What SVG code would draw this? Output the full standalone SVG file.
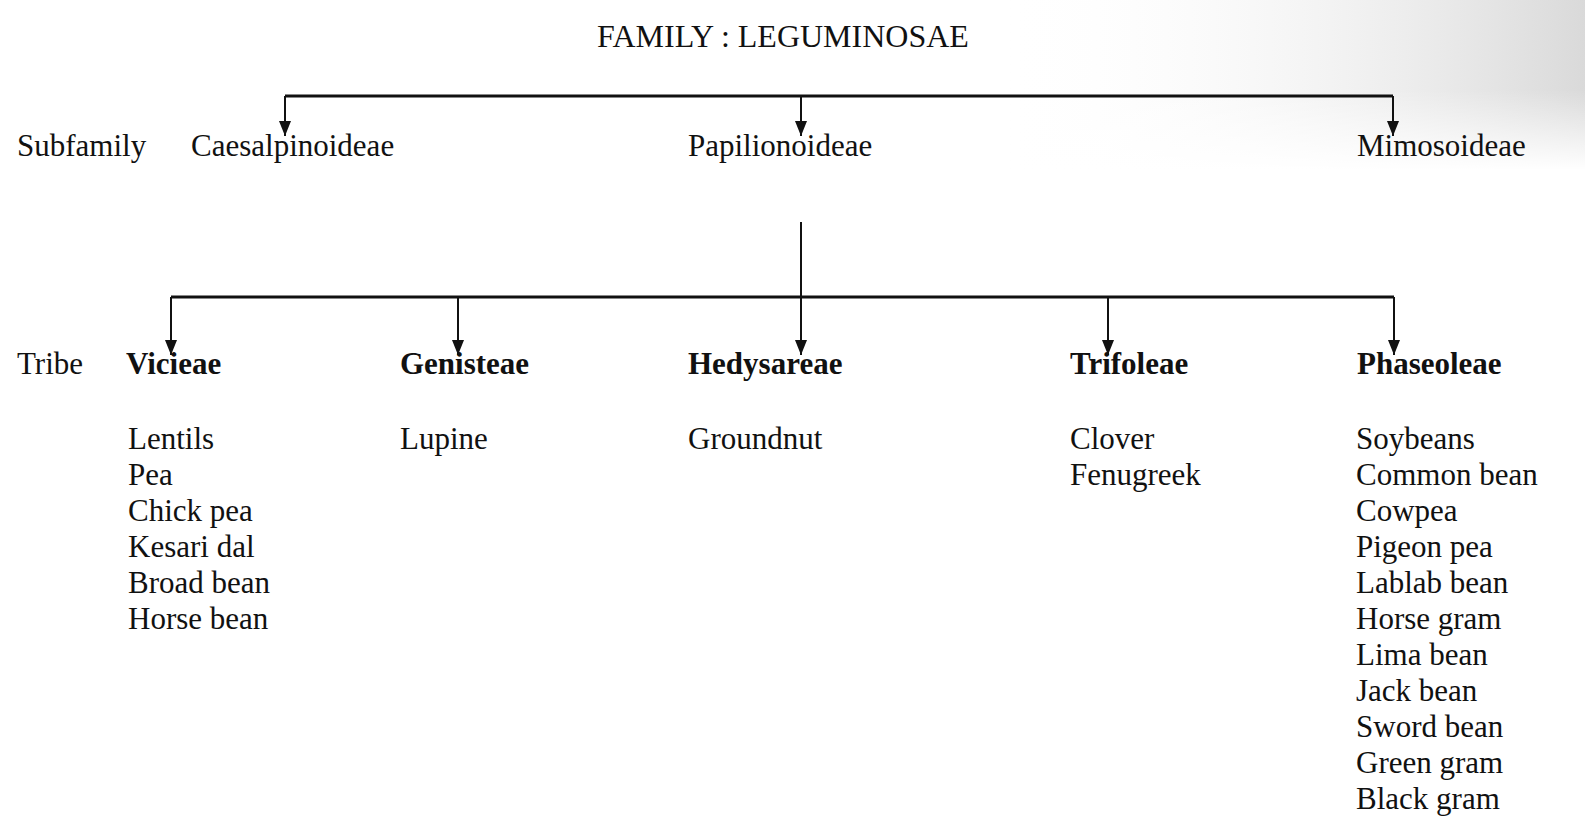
<svg xmlns="http://www.w3.org/2000/svg" width="1585" height="825" viewBox="0 0 1585 825">
<style>
  text { font-family: "Liberation Serif", "Times New Roman", serif; font-size: 31px; fill: #111; }
  .tribe { font-weight: bold; }
  .conn { stroke: #111; stroke-width: 2; fill: none; }
  .bar { stroke: #111; stroke-width: 3; fill: none; }
</style>
<defs>
  <marker id="arr" viewBox="0 0 15 12" refX="15" refY="6" markerWidth="15" markerHeight="12" markerUnits="userSpaceOnUse" orient="auto">
    <path d="M0,0 L15,6 L0,12 Z" fill="#111"/>
  </marker>
  <linearGradient id="shade" x1="0" y1="0" x2="1" y2="0">
    <stop offset="0" stop-color="#ffffff" stop-opacity="0"/>
    <stop offset="1" stop-color="#d0d0d0" stop-opacity="0.8"/>
  </linearGradient>
  <linearGradient id="shadeV" x1="0" y1="0" x2="0" y2="1">
    <stop offset="0" stop-color="#ffffff" stop-opacity="0"/>
    <stop offset="1" stop-color="#ffffff" stop-opacity="1"/>
  </linearGradient>
</defs>
<rect x="0" y="0" width="1585" height="825" fill="#ffffff"/>
<rect x="1000" y="0" width="585" height="170" fill="url(#shade)"/>
<rect x="1000" y="90" width="585" height="80" fill="url(#shadeV)"/>

<g id="connectors">
  <path class="bar" d="M285,96 H1393"/>
  <path class="conn" d="M285,96 V136" marker-end="url(#arr)"/>
  <path class="conn" d="M801,96 V136" marker-end="url(#arr)"/>
  <path class="conn" d="M1393,96 V136" marker-end="url(#arr)"/>
  <path class="bar" d="M171,297 H1394"/>
  <path class="conn" d="M801,222 V355" marker-end="url(#arr)"/>
  <path class="conn" d="M171,297 V355" marker-end="url(#arr)"/>
  <path class="conn" d="M458,297 V355" marker-end="url(#arr)"/>
  <path class="conn" d="M1108,297 V355" marker-end="url(#arr)"/>
  <path class="conn" d="M1394,297 V355" marker-end="url(#arr)"/>
</g>

<g id="family"><text x="597" y="47" style="font-size:32px">FAMILY : LEGUMINOSAE</text></g>

<g id="label-subfamily"><text x="17" y="156">Subfamily</text></g>
<g id="caesalpinoideae"><text x="191" y="156">Caesalpinoideae</text></g>
<g id="papilionoideae"><text x="688" y="156">Papilionoideae</text></g>
<g id="mimosoideae"><text x="1357" y="156">Mimosoideae</text></g>

<g id="label-tribe"><text x="17" y="374">Tribe</text></g>

<g id="vicieae">
  <text class="tribe" x="126" y="374">Vicieae</text>
  <text x="128" y="449">Lentils</text>
  <text x="128" y="485">Pea</text>
  <text x="128" y="521">Chick pea</text>
  <text x="128" y="557">Kesari dal</text>
  <text x="128" y="593">Broad bean</text>
  <text x="128" y="629">Horse bean</text>
</g>

<g id="genisteae">
  <text class="tribe" x="400" y="374">Genisteae</text>
  <text x="400" y="449">Lupine</text>
</g>

<g id="hedysareae">
  <text class="tribe" x="688" y="374">Hedysareae</text>
  <text x="688" y="449">Groundnut</text>
</g>

<g id="trifoleae">
  <text class="tribe" x="1070" y="374">Trifoleae</text>
  <text x="1070" y="449">Clover</text>
  <text x="1070" y="485">Fenugreek</text>
</g>

<g id="phaseoleae">
  <text class="tribe" x="1357" y="374">Phaseoleae</text>
  <text x="1356" y="449">Soybeans</text>
  <text x="1356" y="485">Common bean</text>
  <text x="1356" y="521">Cowpea</text>
  <text x="1356" y="557">Pigeon pea</text>
  <text x="1356" y="593">Lablab bean</text>
  <text x="1356" y="629">Horse gram</text>
  <text x="1356" y="665">Lima bean</text>
  <text x="1356" y="701">Jack bean</text>
  <text x="1356" y="737">Sword bean</text>
  <text x="1356" y="773">Green gram</text>
  <text x="1356" y="809">Black gram</text>
</g>
</svg>
